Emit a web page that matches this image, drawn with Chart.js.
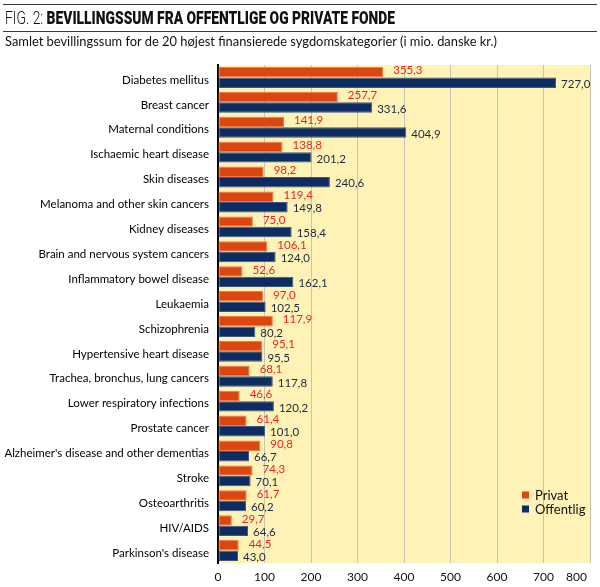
<!DOCTYPE html>
<html>
<head>
<meta charset="utf-8">
<script src="https://cdn.jsdelivr.net/npm/chart.js@4.4.1/dist/chart.umd.min.js"></script>
<style>
  html, body { margin: 0; padding: 0; background: #fff; }
  #wrap { position: relative; width: 600px; height: 587px; overflow: hidden; }
  #c { position: absolute; left: 0; top: 0; }
  .rule { position: absolute; left: 3px; width: 594px; height: 1px; background: #3a3a3a; }
  .txt { position: absolute; left: 5px; white-space: nowrap; transform-origin: 0 50%; color: #111; }
  #title { top: 8px; font-size: 19px; line-height: 19px; font-family: Roboto, sans-serif; }
  #title .light { font-weight: 300; }
  #title .bold { font-weight: 900; }
  #sub { top: 35px; font-size: 13px; line-height: 13px; font-family: Lato, sans-serif; }
</style>
</head>
<body>
<div id="wrap">
  <canvas id="c" width="600" height="587"></canvas>
  <div class="rule" style="top:4px"></div>
  <div class="rule" style="top:31px"></div>
  <div id="title" class="txt"><span class="light">FIG. 2: </span><span class="bold">BEVILLINGSSUM FRA OFFENTLIGE OG PRIVATE FONDE</span></div>
  <div id="sub" class="txt">Samlet bevillingssum for de 20 højest finansierede sygdomskategorier (i mio. danske kr.)</div>
</div>
<script>
const categories = [
  "Diabetes mellitus",
  "Breast cancer",
  "Maternal conditions",
  "Ischaemic heart disease",
  "Skin diseases",
  "Melanoma and other skin cancers",
  "Kidney diseases",
  "Brain and nervous system cancers",
  "Inflammatory bowel disease",
  "Leukaemia",
  "Schizophrenia",
  "Hypertensive heart disease",
  "Trachea, bronchus, lung cancers",
  "Lower respiratory infections",
  "Prostate cancer",
  "Alzheimer's disease and other dementias",
  "Stroke",
  "Osteoarthritis",
  "HIV/AIDS",
  "Parkinson's disease"
];
const privat = [355.3, 257.7, 141.9, 138.8, 98.2, 119.4, 75.0, 106.1, 52.6, 97.0, 117.9, 95.1, 68.1, 46.6, 61.4, 90.8, 74.3, 61.7, 29.7, 44.5];
const offentlig = [727.0, 331.6, 404.9, 201.2, 240.6, 149.8, 158.4, 124.0, 162.1, 102.5, 80.2, 95.5, 117.8, 120.2, 101.0, 66.7, 70.1, 60.2, 64.6, 43.0];
const seriesNames = ["Privat", "Offentlig"];
const xMin = 0, xMax = 800, xStep = 100;

// fit header texts to measured widths of the reference
function fitWidth(id, target) {
  const el = document.getElementById(id);
  const w = el.getBoundingClientRect().width;
  el.style.transform = 'scaleX(' + (target / w) + ')';
}
fitWidth('title', 390);
fitWidth('sub', 492);

const COLORS = { privat: '#dc4610', offentlig: '#0d2c62', privatLabel: '#e8261f', offLabel: '#1c2940' };
const fmt = v => v.toFixed(1).replace('.', ',');

const bgPlugin = {
  id: 'bg',
  beforeDraw(chart) {
    const { ctx, chartArea: a } = chart;
    ctx.save();
    ctx.fillStyle = '#fff2b6';
    ctx.fillRect(a.left, a.top, a.right - a.left, a.bottom - a.top);
    ctx.restore();
    // keep the last x tick label inside the canvas, right-aligned just before the edge
    const s = chart.scales.x;
    const items = s.getLabelItems();
    if (items.length) {
      const last = items[items.length - 1];
      last.options.textAlign = 'right';
      last.options.translation[0] = s.right - 3;
    }
  }
};

const labelPlugin = {
  id: 'vals',
  afterDatasetsDraw(chart) {
    const ctx = chart.ctx;
    ctx.save();
    ctx.font = '11.5px Lato, sans-serif';
    ctx.textBaseline = 'middle';
    ctx.textAlign = 'left';
    chart.data.datasets.forEach((ds, di) => {
      const meta = chart.getDatasetMeta(di);
      meta.data.forEach((el, i) => {
        const v = ds.data[i];
        if (di === 0) {
          ctx.fillStyle = COLORS.privatLabel;
          ctx.fillText(fmt(v), el.x + 10, el.y - 1.5);
        } else {
          ctx.fillStyle = COLORS.offLabel;
          ctx.fillText(fmt(v), el.x + 5, el.y + 1.5);
        }
      });
    });
    ctx.restore();
  }
};

const legendPlugin = {
  id: 'customLegend',
  afterDraw(chart) {
    const ctx = chart.ctx;
    const items = [
      { label: seriesNames[0], color: COLORS.privat },
      { label: seriesNames[1], color: COLORS.offentlig }
    ];
    ctx.save();
    ctx.font = '13px Lato, sans-serif';
    ctx.textBaseline = 'middle';
    ctx.textAlign = 'left';
    items.forEach((it, k) => {
      const y = 495.5 + k * 14;
      ctx.fillStyle = it.color;
      ctx.fillRect(522, y - 4, 7, 7);
      ctx.fillStyle = '#111';
      ctx.fillText(it.label, 535, y);
    });
    ctx.restore();
  }
};

new Chart(document.getElementById('c'), {
  type: 'bar',
  data: {
    labels: categories,
    datasets: [
      { label: seriesNames[0], data: privat, backgroundColor: COLORS.privat, borderColor: '#ef7a44', borderWidth: 1, borderSkipped: false,
        categoryPercentage: 0.84, barPercentage: 1.0 },
      { label: seriesNames[1], data: offentlig, backgroundColor: COLORS.offentlig, borderColor: '#3c5786', borderWidth: 1, borderSkipped: false,
        categoryPercentage: 0.84, barPercentage: 1.0 }
    ]
  },
  options: {
    indexAxis: 'y',
    responsive: false,
    animation: false,
    devicePixelRatio: 1,
    layout: { padding: { top: 65, left: 0, right: 10, bottom: 0 } },
    plugins: {
      legend: { display: false },
      tooltip: { enabled: false }
    },
    scales: {
      x: {
        min: xMin, max: xMax,
        ticks: { stepSize: xStep, color: '#111', font: { family: 'Lato, sans-serif', size: 12 }, padding: 7 },
        grid: { color: '#c8c4b4', lineWidth: 1, drawTicks: false },
        border: { display: false },
        afterFit(s) { s.height = 24; s.paddingRight = 0; s.paddingLeft = 0; }
      },
      y: {
        ticks: { color: '#000', font: { family: 'Lato, sans-serif', size: 11.5 }, padding: 9, autoSkip: false, labelOffset: 2.5 },
        grid: { display: false, drawTicks: false },
        border: { display: true, color: '#000', width: 2 },
        afterFit(s) { s.width = 218; s.paddingTop = 0; s.paddingBottom = 0; }
      }
    }
  },
  plugins: [bgPlugin, labelPlugin, legendPlugin]
});
</script>
</body>
</html>
